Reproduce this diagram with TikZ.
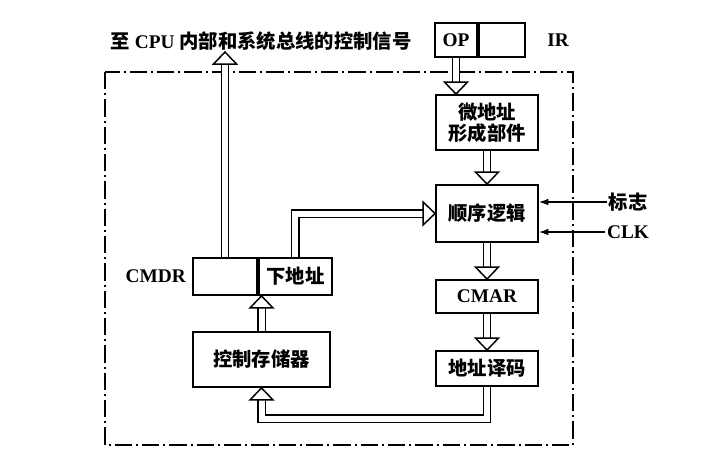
\documentclass[tikz,border=0pt]{standalone}
\usepackage{fontspec}
\setmainfont{Liberation Serif}
\newfontfamily\cjk{Noto Sans CJK SC}
\usetikzlibrary{arrows.meta, positioning, calc}

\tikzset{
  box/.style={draw, line width=1.4pt, inner sep=0pt, minimum width=76.5pt, align=center,
    font=\cjk\bfseries\fontsize{14.5}{16}\selectfont},
  lbl/.style={inner sep=1pt, font=\bfseries\fontsize{14.5}{17}\selectfont},
  bus/.style={double=white, double distance=4.5pt, line width=1.1pt, shorten >=8pt},
  head/.style={fill=white, line width=1.1pt, line join=miter},
  sig/.style={-{Latex[length=7pt, width=5pt]}, line width=1pt},
  frame/.style={line width=1.2pt, dash pattern=on 13pt off 3pt on 1.5pt off 3pt},
  bushead/.pic={\draw[head] (0,0) -- (-11.5,-12) -- (11.5,-12) -- cycle;}
}

\begin{document}
\begin{tikzpicture}[x=0.75pt, y=-0.75pt]
    \useasboundingbox (0,0) rectangle (721,469);

    % The control unit
    \draw[frame] (105,72) rectangle (573,445);

    % Instruction register and the title
    \node[box, minimum width=31.5pt, minimum height=25.5pt, font=\bfseries\fontsize{14.5}{17}\selectfont] (op) at (456,40) {OP};
    \node[box, minimum width=34.5pt, minimum height=25.5pt, anchor=west] (irr) at (op.east) {};
    \node[lbl, right=15pt of irr] (irlbl) {IR};
    \node[lbl] (title) at (261,41) {{\cjk 至} CPU {\cjk 内部和系统总线的控制信号}};

    % Right column
    \node[box, minimum height=41.25pt] (mic) at (487,122.5) {微地址\\形成部件};
    \node[box, minimum height=42.75pt] (seq) at (487,213.5) {顺序逻辑};
    \node[box, minimum height=24.75pt, font=\bfseries\fontsize{14.5}{17}\selectfont] (cmar) at (487,296.5) {CMAR};
    \node[box, minimum height=26.25pt] (dec) at (487,368.5) {地址译码};

    % Left column
    \node[box, minimum width=102.75pt, minimum height=41.25pt] (cs) at (261.5,359.5) {控制存储器};
    \node[box, minimum width=48pt, minimum height=27.75pt] (cmdrl) at (225,276.5) {};
    \node[box, minimum width=54.75pt, minimum height=27.75pt, anchor=west] (cmdrr) at (cmdrl.east) {下地址};
    \node[lbl, left=3.5pt of cmdrl] (cmdrlbl) {CMDR};

    % Inputs of the sequencing logic
    \node[lbl, font=\cjk\bfseries\fontsize{14.5}{17}\selectfont] (flag) at (628,202) {标志};
    \node[lbl] (clk) at (628,232) {CLK};
    \draw[sig] (flag.west) -- (flag.west -| seq.east);
    \draw[sig] (clk.west) -- (clk.west -| seq.east);

    % Buses
    \draw[bus] (op.south) -- (op.south |- mic.north);
    \pic at (op.south |- mic.north) {bushead};
    \draw[bus] (mic.south) -- (seq.north);
    \pic at (seq.north) {bushead};
    \draw[bus] (seq.south) -- (cmar.north);
    \pic at (cmar.north) {bushead};
    \draw[bus] (cmar.south) -- (dec.north);
    \pic at (dec.north) {bushead};
    \draw[bus] (dec.south) -- ++(0,32) -| (cs.south);
    \pic[rotate=180] at (cs.south) {bushead};
    \draw[bus] (cs.north) -- (cs.north |- cmdrl.south);
    \pic[rotate=180] at (cs.north |- cmdrl.south) {bushead};
    \draw[bus] (cmdrl.north) -- (cmdrl.north |- title.south);
    \pic[rotate=180] at (cmdrl.north |- title.south) {bushead};
    \draw[bus] (cmdrr.north) |- (seq.west);
    \pic[rotate=90] at (seq.west) {bushead};

\end{tikzpicture}
\end{document}
